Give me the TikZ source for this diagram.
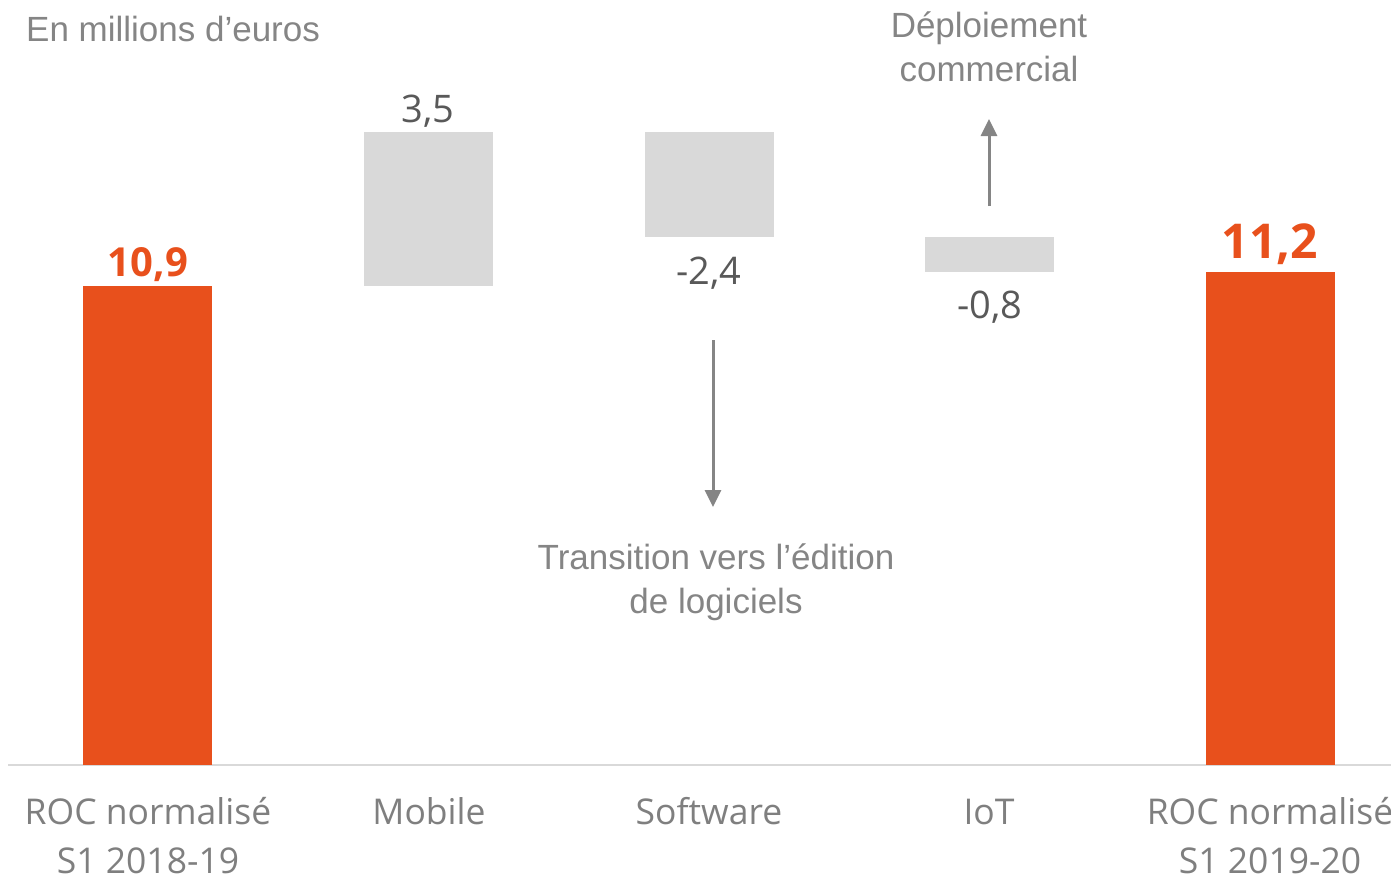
\documentclass[tikz,border=0pt]{standalone}
\usepackage{fontspec}
\setmainfont{Open Sans}
\newfontfamily\annfont{Liberation Sans}
\usetikzlibrary{arrows.meta}
\definecolor{orng}{HTML}{E8501C}
\definecolor{barg}{HTML}{D9D9D9}
\definecolor{txtg}{HTML}{7F7F7F}
\definecolor{numg}{HTML}{595959}
\definecolor{anng}{HTML}{858585}
\begin{document}
\begin{tikzpicture}[x=1pt,y=-1pt,
  obar/.style={fill=orng, draw=none, inner sep=0pt, outer sep=0pt, minimum width=129pt},
  gbar/.style={fill=barg, draw=none, inner sep=0pt, outer sep=0pt, minimum width=129pt},
  cat/.style={text=txtg, font=\fontsize{35.5}{48}\selectfont, align=center, anchor=base, inner sep=0pt},
  num/.style={text=numg, font=\fontsize{38}{46}\selectfont, anchor=base, inner sep=0pt},
  tot/.style={text=orng, font=\bfseries\fontsize{40}{48}\selectfont, anchor=base, inner sep=0pt},
  ann/.style={text=anng, font=\annfont\fontsize{35}{45}\selectfont, anchor=base, inner sep=0pt},
  annarrow/.style={draw=anng, line width=3pt, -{Triangle[length=17pt,width=16pt]}}]
\useasboundingbox (0,0) rectangle (1391,879);
% axis
\draw[barg, line width=2pt] (8,765) -- (1391,765);
% bars
\node[obar, minimum height=479pt, anchor=south] (b1) at (147.5,765) {};
\node[gbar, minimum height=154pt, anchor=north] (b2) at (428.5,132) {};
\node[gbar, minimum height=105pt, anchor=north] (b3) at (709,132) {};
\node[gbar, minimum height=35pt, anchor=north] (b4) at (989.5,237) {};
\node[obar, minimum height=493pt, anchor=south] (b5) at (1270.5,765) {};
% value labels
\node[tot] (v1) at (148,276) {10,9};
\node[num] (v2) at (428,122) {3,5};
\node[num] (v3) at (709,284) {-2,4};
\node[num] (v4) at (990,318) {-0,8};
\node[tot, font=\bfseries\fontsize{48}{56}\selectfont] (v5) at (1270,258) {11,2};
% category labels
\node[cat] (c1) at (148,824) {ROC normalisé};
\node[cat] (c1b) at (148,873) {S1 2018-19};
\node[cat] (c2) at (429,824) {Mobile};
\node[cat] (c3) at (709,824) {Software};
\node[cat] (c4) at (989,824) {IoT};
\node[cat] (c5) at (1270,824) {ROC normalisé};
\node[cat] (c5b) at (1270,873) {S1 2019-20};
% annotations
\node[ann, anchor=base west] (t0) at (26,41) {En millions d’euros};
\node[ann] (a1) at (989,37) {Déploiement};
\node[ann] (a1b) at (989,81) {commercial};
\node[ann] (a2) at (716,569) {Transition vers l’édition};
\node[ann] (a2b) at (716,613) {de logiciels};
\coordinate (u0) at (989,206);
\coordinate (u1) at (989,119);
\coordinate (d0) at (713,340);
\coordinate (d1) at (713,507);
\draw[annarrow] (u0) -- (u1);
\draw[annarrow] (d0) -- (d1);
\end{tikzpicture}
\end{document}
